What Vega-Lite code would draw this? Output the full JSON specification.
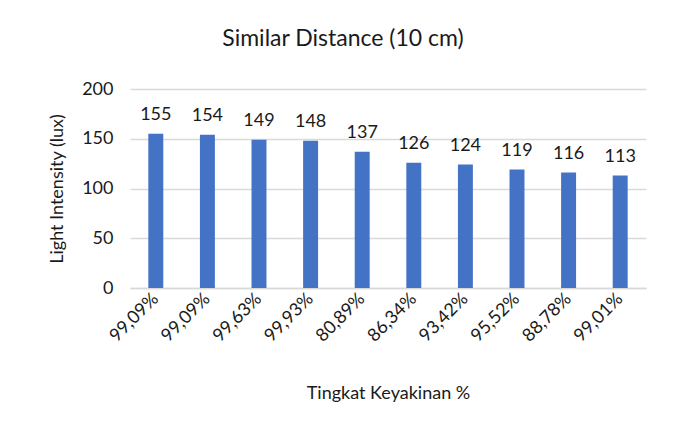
{
  "$schema": "https://vega.github.io/schema/vega-lite/v6.json",
  "autosize": "none",
  "width": 516,
  "height": 199,
  "padding": {"left": 130, "top": 89, "right": 38, "bottom": 147},
  "background": "white",
  "title": {
    "text": "Similar Distance (10 cm)",
    "font": "Lato",
    "fontSize": 23,
    "fontWeight": "normal",
    "color": "#1a1a1a",
    "anchor": "middle",
    "dx": -45,
    "offset": 29
  },
  "data": {
    "values": [
      {"label": "99,09%", "lux": 155},
      {"label": "99,09% ", "lux": 154},
      {"label": "99,63%", "lux": 149},
      {"label": "99,93%", "lux": 148},
      {"label": "80,89%", "lux": 137},
      {"label": "86,34%", "lux": 126},
      {"label": "93,42%", "lux": 124},
      {"label": "95,52%", "lux": 119},
      {"label": "88,78%", "lux": 116},
      {"label": "99,01%", "lux": 113}
    ]
  },
  "encoding": {
    "x": {
      "field": "label",
      "type": "nominal",
      "sort": null,
      "scale": {"paddingInner": 0.71, "paddingOuter": 0.355},
      "axis": {
        "title": "Tingkat Keyakinan %",
        "labelAngle": -45,
        "labelAlign": "right",
        "labelBaseline": "middle",
        "labelPadding": 8,
        "labelFontSize": 18,
        "ticks": false,
        "domainColor": "#d9d9d9",
        "domainWidth": 1.5,
        "titlePadding": 40,
        "titleFontSize": 18
      }
    },
    "y": {
      "field": "lux",
      "type": "quantitative",
      "scale": {"domain": [0, 200]},
      "axis": {
        "title": "Light Intensity (lux)",
        "values": [0, 50, 100, 150, 200],
        "ticks": false,
        "domain": false,
        "gridColor": "#d9d9d9",
        "gridWidth": 1.5,
        "labelPadding": 17,
        "labelFontSize": 18,
        "titlePadding": 15,
        "titleFontSize": 18
      }
    }
  },
  "layer": [
    {"mark": {"type": "bar", "color": "#4472C4"}},
    {
      "mark": {"type": "text", "baseline": "bottom", "dy": -10, "font": "Lato", "fontSize": 18, "color": "#1a1a1a"},
      "encoding": {"text": {"field": "lux", "type": "quantitative"}}
    }
  ],
  "config": {
    "view": {"stroke": null},
    "axis": {
      "labelFont": "Lato",
      "labelColor": "#1a1a1a",
      "titleFont": "Lato",
      "titleFontWeight": "normal",
      "titleColor": "#1a1a1a"
    }
  }
}
